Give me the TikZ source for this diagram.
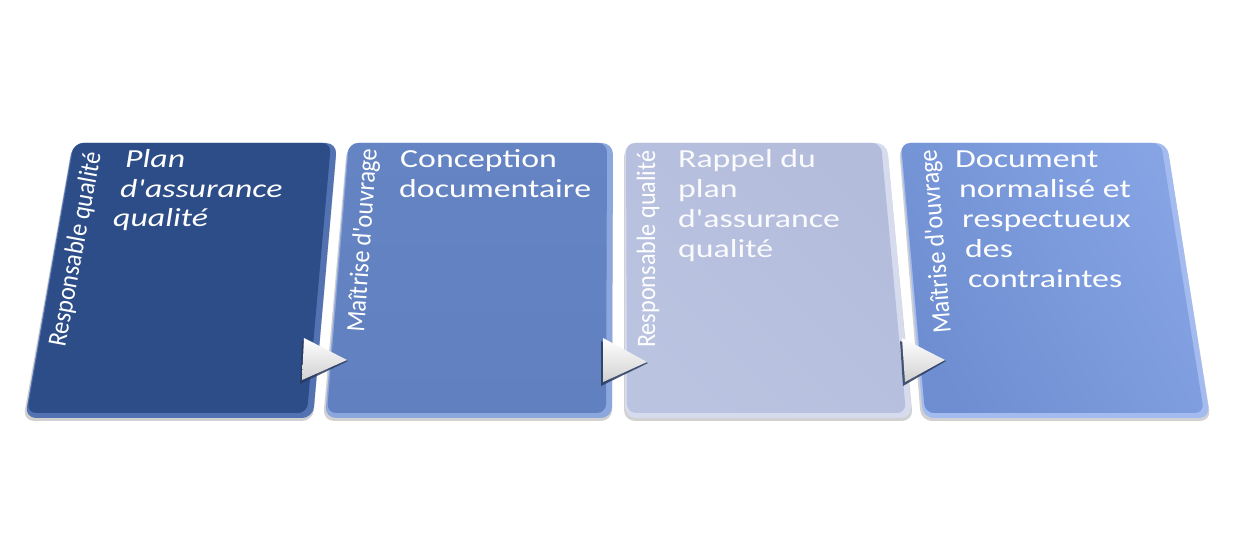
\documentclass[tikz,border=0pt]{standalone}
\usepackage{graphicx}
\usepackage{fontspec}
\newfontfamily\calfont{Carlito}
\newfontfamily\widefont[FakeStretch=1.3]{Carlito}
\newcommand\vlab[1]{\scalebox{1}[1.1]{#1}}
\definecolor{cA}{HTML}{2C4D88}
\definecolor{cArim}{HTML}{5272B2}
\definecolor{cB}{HTML}{6180C0}
\definecolor{cBtop}{HTML}{6584C3}
\definecolor{cBrim}{HTML}{8CA6DE}
\definecolor{cC}{HTML}{B3BCDB}
\definecolor{cCtop}{HTML}{BAC3E0}
\definecolor{cCrim}{HTML}{D6DCEE}
\definecolor{cD}{HTML}{6E8ED1}
\definecolor{cDend}{HTML}{86A4E4}
\definecolor{cDrim}{HTML}{A3BBEE}
\definecolor{trishadow}{HTML}{2A3A5C}
\begin{document}
\begin{tikzpicture}[x=1bp,y=-1bp]
\tikzset{
  rc/.style={rounded corners=11bp},
  rci/.style={rounded corners=9bp},
  boxshadow/.style={fill=black, opacity=0.18, rounded corners=11bp},
  htext/.style={anchor=base west, inner sep=0pt, text=white, font={\widefont\fontsize{26bp}{30bp}\selectfont}},
  vtext/.style={anchor=base west, inner sep=0pt, text=white, font={\calfont\fontsize{24.2bp}{29bp}\selectfont}},
  trishade/.style={top color=white, bottom color=black!18},
  trishad/.style={fill=trishadow, opacity=0.85}
}
\fill[white] (0,0) rectangle (1237,543);
\useasboundingbox (0,0) rectangle (1237,543);

% ---------- box 1 ----------
\fill[boxshadow] (72,146) -- (337,146) -- (313,421) -- (23,421) -- cycle;
\fill[cArim, rc] (73,143) -- (337,143) -- (313,418) -- (25,418) -- cycle;
\fill[cA, rci] (74,143) -- (331,143) -- (307,413) -- (27,413) -- cycle;
\coordinate (box1) at (180,280);

% ---------- box 2 ----------
\fill[boxshadow] (347,146) -- (613,146) -- (612,421) -- (323,421) -- cycle;
\fill[cBrim, rc] (348,143) -- (613,143) -- (612,418) -- (325,418) -- cycle;
\shade[rci, top color=cBtop, bottom color=cB] (349,143) -- (607,143) -- (606,413) -- (327,413) -- cycle;
\coordinate (box2) at (470,280);

% ---------- box 3 ----------
\fill[boxshadow] (624,146) -- (887,146) -- (913,421) -- (624,421) -- cycle;
\fill[cCrim, rc] (625,143) -- (887,143) -- (912,418) -- (625,418) -- cycle;
\shade[rci, left color=cCtop, right color=cC, shading angle=135] (626,143) -- (881,143) -- (906,413) -- (627,413) -- cycle;
\coordinate (box3) at (770,280);

% ---------- box 4 ----------
\fill[boxshadow] (899,146) -- (1167,146) -- (1211,421) -- (921,421) -- cycle;
\fill[cDrim, rc] (900,143) -- (1167,143) -- (1210,418) -- (923,418) -- cycle;
\shade[rci, left color=cD, right color=cDend, shading angle=120] (901,143) -- (1161,143) -- (1204,413) -- (925,413) -- cycle;
\coordinate (box4) at (1060,280);

% ---------- vertical labels ----------
\node[vtext, rotate=79.5] (v1) at (65,348) {\vlab{Responsable qualité}};
\node[vtext, rotate=86] (v2) at (364,333) {\vlab{Maîtrise d'ouvrage}};
\node[vtext, rotate=90] (v3) at (655,348) {\vlab{Responsable qualité}};
\node[vtext, rotate=94.5] (v4) at (951,333) {\vlab{Maîtrise d'ouvrage}};

% ---------- horizontal texts ----------
\node[htext] (t1a) at (125,168) {\itshape Plan};
\node[htext] (t1b) at (120,197.5) {\itshape d'assurance};
\node[htext] (t1c) at (113,227) {\itshape qualité};

\node[htext] (t2a) at (400,168) {Conception};
\node[htext] (t2b) at (399,197.5) {documentaire};

\node[htext, text opacity=0.95] (t3a) at (678,168) {Rappel du};
\node[htext, text opacity=0.95] (t3b) at (678,198) {plan};
\node[htext, text opacity=0.95] (t3c) at (678,228) {d'assurance};
\node[htext, text opacity=0.95] (t3d) at (678,258) {qualité};

\node[htext] (t4a) at (955,168) {Document};
\node[htext] (t4b) at (959,198) {normalisé et};
\node[htext] (t4c) at (962,228) {respectueux};
\node[htext] (t4d) at (965,258) {des};
\node[htext] (t4e) at (968,288) {contraintes};

% ---------- arrow triangles ----------
\fill[trishad] (302,341) -- (348,361) -- (300,384) -- cycle;
\shade[trishade] (304,338) -- (347,360) -- (302,380) -- cycle;

\fill[trishad] (601,341) -- (648,363) -- (601,386) -- cycle;
\shade[trishade] (603,338) -- (647,362) -- (603,382) -- cycle;

\fill[trishad] (900,341) -- (946,361) -- (903,386) -- cycle;
\shade[trishade] (902,338) -- (945,360) -- (905,382) -- cycle;
\end{tikzpicture}
\end{document}
